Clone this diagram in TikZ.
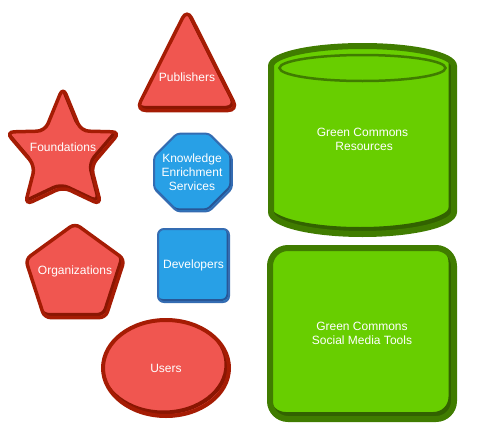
\documentclass[tikz,border=0pt]{standalone}
\usepackage{fontspec}
\setmainfont{Liberation Sans}
\usetikzlibrary{shapes.geometric,
	positioning}
\definecolor{redfill}{RGB}{240,86,80}
\definecolor{redline}{RGB}{165,28,4}
\definecolor{redshadow}{RGB}{138,22,2}
\definecolor{bluefill}{RGB}{40,160,230}
\definecolor{blueline}{RGB}{52,108,178}
\definecolor{blueshadow}{RGB}{40,86,150}
\definecolor{greenfill}{RGB}{104,206,0}
\definecolor{greenline}{RGB}{64,124,0}
\definecolor{greenshadow}{RGB}{50,98,0}
\newcommand{\triangleoutline}{(187,9) -- (238,110.5) -- (136,110.5) -- cycle}
\newcommand{\staroutline}{(63,87) -- (81,131) -- (120,132) -- (91,166) -- (101,205)
	-- (63,187) -- (25,205) -- (35,166) -- (6,132) -- (45,131) -- cycle}
\newcommand{\cylinderoutline}{(271,66) arc[start angle=180, end angle=360, x radius=91.5, y radius=20] -- (454,212)
	arc[start angle=0, end angle=180, x radius=91.5, y radius=22] -- cycle}

\begin{document}
\begin{tikzpicture}[x=1pt, y=-1pt,
	redshape/.style={draw=redline, fill=redfill, line width=3.5pt, rounded corners=6pt},
	blueshape/.style={draw=blueline, fill=bluefill, line width=2pt},
	greenshape/.style={draw=greenline, fill=greenfill, line width=6pt},
	redshade/.style={draw=redshadow, fill=none, line width=3.5pt, rounded corners=6pt},
	blueshade/.style={draw=blueshadow, fill=none, line width=2pt},
	greenshade/.style={draw=greenshadow, fill=none, line width=6pt},
	pentagonshape/.style={regular polygon, regular polygon sides=5, minimum size=104pt, inner sep=0pt},
	octagonshape/.style={regular polygon, regular polygon sides=8, minimum size=84pt, inner sep=0pt, rounded corners=3pt},
	usersshape/.style={ellipse, minimum width=126pt, minimum height=96pt, inner sep=0pt},
	developersshape/.style={rectangle, rounded corners=6pt, minimum width=71pt, minimum height=73pt, inner sep=0pt},
	socialshape/.style={rectangle, rounded corners=18pt, minimum width=184pt, minimum height=171pt, inner sep=0pt},
	labeltext/.style={text=white, font=\fontsize{12}{14}\selectfont, align=center}]
	\useasboundingbox (0,0) rectangle (477,442);
	% red shapes
	\draw[redshape, rounded corners=10pt, path picture={
		\draw[redshade, rounded corners=10pt, shift={(-2pt,3pt)}] \triangleoutline;}] \triangleoutline;
	\node[labeltext] (publishers) at (187,77) {Publishers};
	\draw[redshape, rounded corners=8pt, path picture={
		\draw[redshade, rounded corners=8pt, shift={(-2pt,3pt)}] \staroutline;}] \staroutline;
	\node[labeltext] (foundations) at (63,147) {Foundations};
	\node[redshape, pentagonshape, path picture={
		\node[redshade, pentagonshape] at ([shift={(-2pt,45.07pt)}]path picture bounding box.south) {};}] (organizationsshape) at (75,275.5) {};
	\node[labeltext] (organizations) at ([yshift=4.5pt]organizationsshape.center) {Organizations};
	\node[redshape, usersshape, line width=4pt, labeltext, path picture={
		\node[redshade, usersshape, line width=4pt] at ([shift={(-2.5pt,3.5pt)}]path picture bounding box.center) {};}] (users) at (166,368) {Users};
	% blue shapes
	\node[blueshape, octagonshape, path picture={
		\node[blueshade, octagonshape] at ([shift={(-1.5pt,2pt)}]path picture bounding box.center) {};}] (knowledgeshape) at (193,172.5) {};
	\node[labeltext] (knowledge) at ([xshift=-1pt]knowledgeshape.center) {Knowledge\\Enrichment\\Services};
	\node[blueshape, developersshape, labeltext, path picture={
		\node[blueshade, developersshape] at ([shift={(-1.5pt,2pt)}]path picture bounding box.center) {};}] (developers) at (193.5,265.5) {Developers};
	% green shapes
	\draw[greenshape, path picture={
		\draw[greenshade, shift={(-2.5pt,4pt)}] \cylinderoutline;}] \cylinderoutline;
	\draw[draw=greenline, line width=2.5pt] (362.5,68) ellipse[x radius=83, y radius=13];
	\node[labeltext] (resources) at (362.5,139) {Green Commons\\\ Resources};
	\node[greenshape, socialshape, labeltext, path picture={
		\node[greenshade, socialshape] at ([shift={(-2.5pt,4pt)}]path picture bounding box.center) {};}] (socialmedia) at (362,333.5) {Green Commons\\Social Media Tools};
\end{tikzpicture}
\end{document}
